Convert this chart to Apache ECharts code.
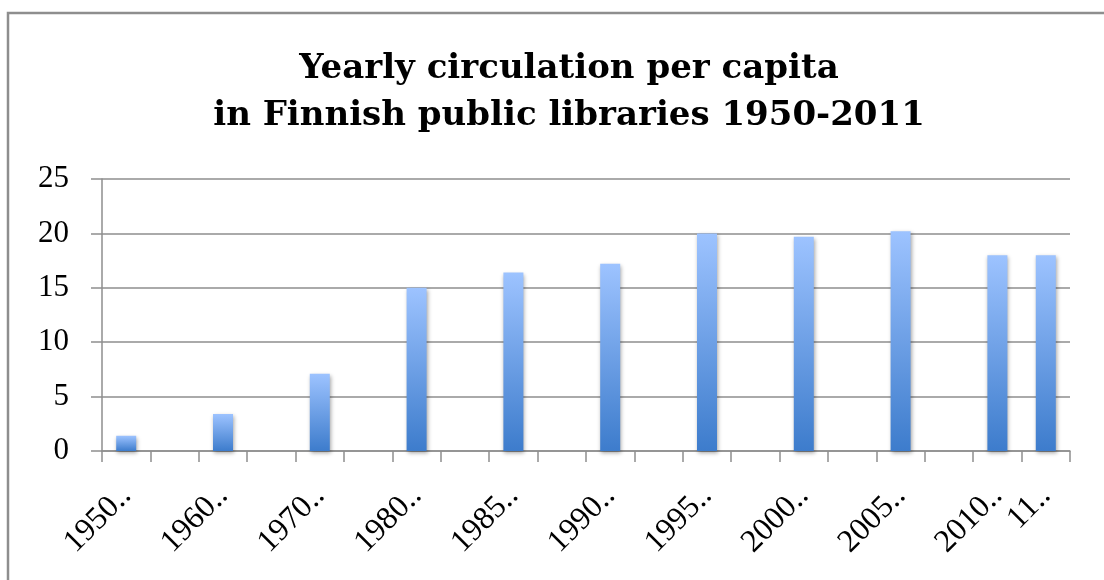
<!DOCTYPE html>
<html>
<head>
<meta charset="utf-8">
<script src="https://cdn.jsdelivr.net/npm/echarts@6/dist/echarts.min.js"></script>
<style>
  html, body { margin: 0; padding: 0; background: #fff; }
  #main { width: 1104px; height: 580px; }
</style>
</head>
<body>
<div id="main"></div>
<script>
// 20 slots on the axis, only some of them hold a bar
var categories = ['1950..', '', '1960..', '', '1970..', '', '1980..', '', '1985..', '',
                  '1990..', '', '1995..', '', '2000..', '', '2005..', '', '2010..', '11..'];
var circulation = [1.4, null, 3.4, null, 7.1, null, 15.0, null, 16.4, null,
                   17.2, null, 20.0, null, 19.7, null, 20.2, null, 18.0, 18.0];
var yTicks = [0, 5, 10, 15, 20, 25];

var myChart = echarts.init(document.getElementById('main'));
var serif = '"Liberation Serif", "DejaVu Serif", serif';
var gray = '#8e8e8e';

var option = {
  backgroundColor: '#fff',
  animation: false,
  title: {
    text: 'Yearly circulation per capita\nin Finnish public libraries 1950-2011',
    left: 564,
    textAlign: 'center',
    top: 41,
    textStyle: {
      fontFamily: '"DejaVu Serif", serif',
      fontWeight: 'bold',
      fontSize: 34,
      lineHeight: 47,
      color: '#000'
    }
  },
  graphic: [{
    type: 'rect',
    shape: { x: 8, y: 13, width: 1200, height: 700 },
    style: { fill: 'none', stroke: gray, lineWidth: 2.5 },
    silent: true
  }],
  grid: { left: 102, right: 34, top: 179, bottom: 129 },
  xAxis: {
    type: 'category',
    data: categories,
    boundaryGap: true,
    axisLine: { lineStyle: { color: gray, width: 1.5 } },
    axisTick: { show: true, interval: 0, length: 11, lineStyle: { color: gray, width: 1.5 } },
    axisLabel: {
      interval: 0,
      rotate: 45,
      margin: 40,
      fontFamily: serif,
      fontSize: 32,
      color: '#000'
    }
  },
  yAxis: {
    type: 'value',
    min: yTicks[0],
    max: yTicks[yTicks.length - 1],
    interval: 5,
    axisLine: { show: true, lineStyle: { color: gray, width: 1.5 } },
    axisTick: { show: true, length: 11, lineStyle: { color: gray, width: 1.5 } },
    splitLine: { lineStyle: { color: gray, width: 1.5 } },
    axisLabel: {
      margin: 33,
      fontFamily: serif,
      fontSize: 31,
      color: '#000'
    }
  },
  series: [{
    type: 'bar',
    data: circulation,
    barWidth: 20,
    itemStyle: {
      color: new echarts.graphic.LinearGradient(0, 0, 0, 1, [
        { offset: 0, color: '#9dc3ff' },
        { offset: 1, color: '#3d7ccc' }
      ]),
      shadowColor: 'rgba(0,0,0,0.35)',
      shadowBlur: 4,
      shadowOffsetX: 1,
      shadowOffsetY: 2
    }
  }]
};
myChart.setOption(option);
</script>
</body>
</html>
